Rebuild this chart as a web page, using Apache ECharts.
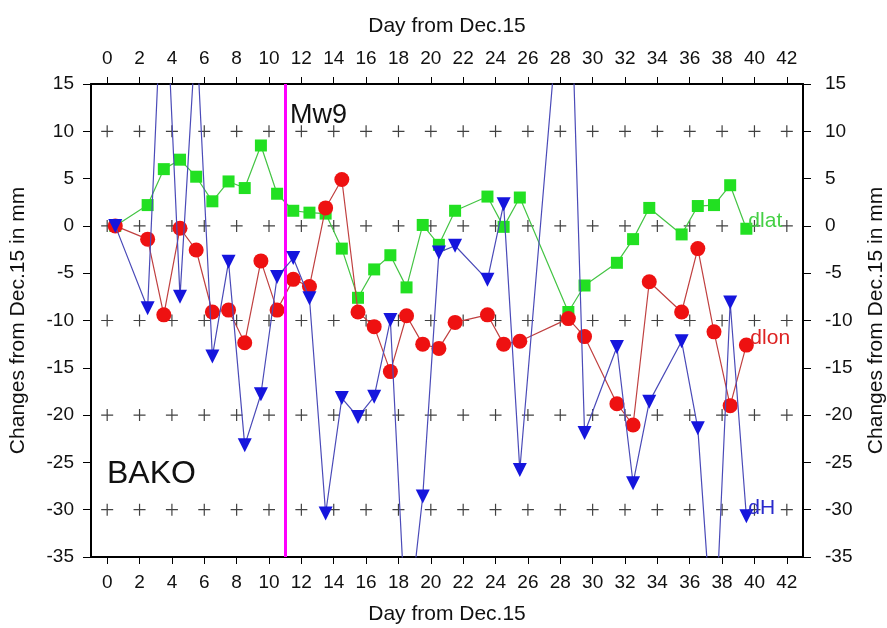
<!DOCTYPE html>
<html>
<head>
<meta charset="utf-8">
<script src="https://cdn.jsdelivr.net/npm/echarts@6/dist/echarts.min.js"></script>
<style>
  html, body { margin: 0; padding: 0; background: #fff; }
  #chart { width: 887px; height: 628px; }
</style>
</head>
<body>
<div id="chart"></div>
<script>
// sample days (offset half a day) and the three components, in mm
var days = [0.5, 2.5, 3.5, 4.5, 5.5, 6.5, 7.5, 8.5, 9.5, 10.5, 11.5, 12.5, 13.5, 14.5, 15.5, 16.5, 17.5,
    18.5, 19.5, 20.5, 21.5, 23.5, 24.5, 25.5, 28.5, 29.5, 31.5, 32.5, 33.5, 35.5, 36.5, 37.5, 38.5, 39.5];
var dlat = [0, 2.2, 6.0, 7.0, 5.2, 2.6, 4.7, 4.0, 8.5, 3.4, 1.6, 1.4, 1.3, -2.4, -7.6, -4.6, -3.1,
    -6.5, 0.1, -2.0, 1.6, 3.1, -0.1, 3.0, -9.1, -6.3, -3.9, -1.4, 1.9, -0.9, 2.1, 2.2, 4.3, -0.3];
var dlon = [0, -1.4, -9.4, -0.25, -2.55, -9.1, -8.9, -12.35, -3.7, -8.9, -5.65, -6.4, 1.9, 4.9, -9.1, -10.65, -15.4,
    -9.5, -12.5, -12.95, -10.2, -9.4, -12.5, -12.2, -9.8, -11.7, -18.8, -21.05, -5.9, -9.1, -2.4, -11.2, -19.0, -12.6];
var dH = [0, -8.7, 30, -7.5, 21, -13.8, -3.8, -23.2, -17.8, -5.4, -3.4, -7.65, -30.4, -18.2, -20.2, -18.05, -9.95,
    -44, -28.6, -2.8, -2.1, -5.7, 2.3, -25.8, 35, -21.9, -12.8, -27.2, -18.6, -12.2, -21.4, -46, -8.1, -30.7];

var dayTicks = [0, 2, 4, 6, 8, 10, 12, 14, 16, 18, 20, 22, 24, 26, 28, 30, 32, 34, 36, 38, 40, 42];
var crossRows = [10, 0, -10, -20, -30];
var quakeDay = 11;

var FONT = 'Liberation Sans';

function pairs(xs, ys) {
    return xs.map(function (x, i) { return [x, ys[i]]; });
}

var crosses = [];
crossRows.forEach(function (v) {
    dayTicks.forEach(function (d) { crosses.push([d, v]); });
});

var chart = echarts.init(document.getElementById('chart'));

var xCommon = function (pos) {
    return {
        type: 'value',
        position: pos,
        min: -1,
        max: 43,
        name: 'Day from Dec.15',
        nameLocation: 'middle',
        nameGap: 47,
        nameTextStyle: { color: '#111', fontSize: 21, fontFamily: FONT },
        axisLine: { onZero: false, lineStyle: { color: '#000', width: 2 } },
        axisTick: { inside: false, length: 7, customValues: dayTicks, lineStyle: { color: '#000' } },
        axisLabel: { customValues: dayTicks, color: '#111', fontSize: 19, fontFamily: FONT, margin: 16 },
        splitLine: { show: false }
    };
};
var yCommon = function (pos) {
    return {
        type: 'value',
        position: pos,
        min: -35,
        max: 15,
        interval: 5,
        name: 'Changes from Dec.15 in mm',
        nameLocation: 'middle',
        nameRotate: 90,
        nameGap: pos === 'left' ? 62 : 63,
        nameTextStyle: { color: '#111', fontSize: 21, fontFamily: FONT },
        axisLine: { onZero: false, lineStyle: { color: '#000', width: 2 } },
        axisTick: { inside: false, length: 8, lineStyle: { color: '#000' } },
        axisLabel: { color: '#111', fontSize: 19, fontFamily: FONT, margin: pos === 'left' ? 17 : 22 },
        splitLine: { show: false }
    };
};

chart.setOption({
    animation: false,
    backgroundColor: '#fff',
    grid: { left: 91, right: 84, top: 84, bottom: 71, outerBoundsMode: 'none', containLabel: false },
    xAxis: [xCommon('bottom'), xCommon('top')],
    yAxis: [yCommon('left'), yCommon('right')],
    graphic: [
        { type: 'text', left: 290, top: 102, style: { text: 'Mw9', fontSize: 27, fontFamily: FONT, fill: '#111' } },
        { type: 'text', left: 107, top: 458, style: { text: 'BAKO', fontSize: 32, fontFamily: FONT, fill: '#111' } }
    ],
    series: [
        {
            name: 'grid',
            type: 'scatter',
            silent: true,
            z: 1,
            symbol: 'path://M0,5.4H12V6.6H0Z M5.4,0H6.6V12H5.4Z',
            symbolSize: 12,
            itemStyle: { color: '#111' },
            data: crosses,
            markLine: {
                silent: true,
                symbol: 'none',
                label: { show: false },
                lineStyle: { color: '#ff00ff', width: 3, type: 'solid' },
                data: [{ xAxis: quakeDay }]
            }
        },
        {
            name: 'dlat',
            type: 'line',
            z: 3,
            data: pairs(days, dlat),
            symbol: 'rect',
            symbolSize: 12,
            itemStyle: { color: '#22e022' },
            lineStyle: { color: '#44c444', width: 1.2 },
            endLabel: { show: true, formatter: 'dlat', color: '#44d044', fontSize: 21, fontFamily: FONT, distance: 0, offset: [2, -8] }
        },
        {
            name: 'dlon',
            type: 'line',
            z: 4,
            data: pairs(days, dlon),
            symbol: 'circle',
            symbolSize: 15,
            itemStyle: { color: '#ee1111' },
            lineStyle: { color: '#c04040', width: 1.2 },
            endLabel: { show: true, formatter: 'dlon', color: '#dd2222', fontSize: 21, fontFamily: FONT, distance: 2, offset: [2, -7] }
        },
        {
            name: 'dH',
            type: 'line',
            z: 5,
            data: pairs(days, dH),
            symbol: 'triangle',
            symbolRotate: 180,
            symbolSize: 14,
            itemStyle: { color: '#1515dd' },
            lineStyle: { color: '#4a4ab8', width: 1.2 },
            endLabel: { show: true, formatter: 'dH', color: '#2a2acc', fontSize: 21, fontFamily: FONT, distance: 0, offset: [2, -8] }
        }
    ]
});
</script>
</body>
</html>
